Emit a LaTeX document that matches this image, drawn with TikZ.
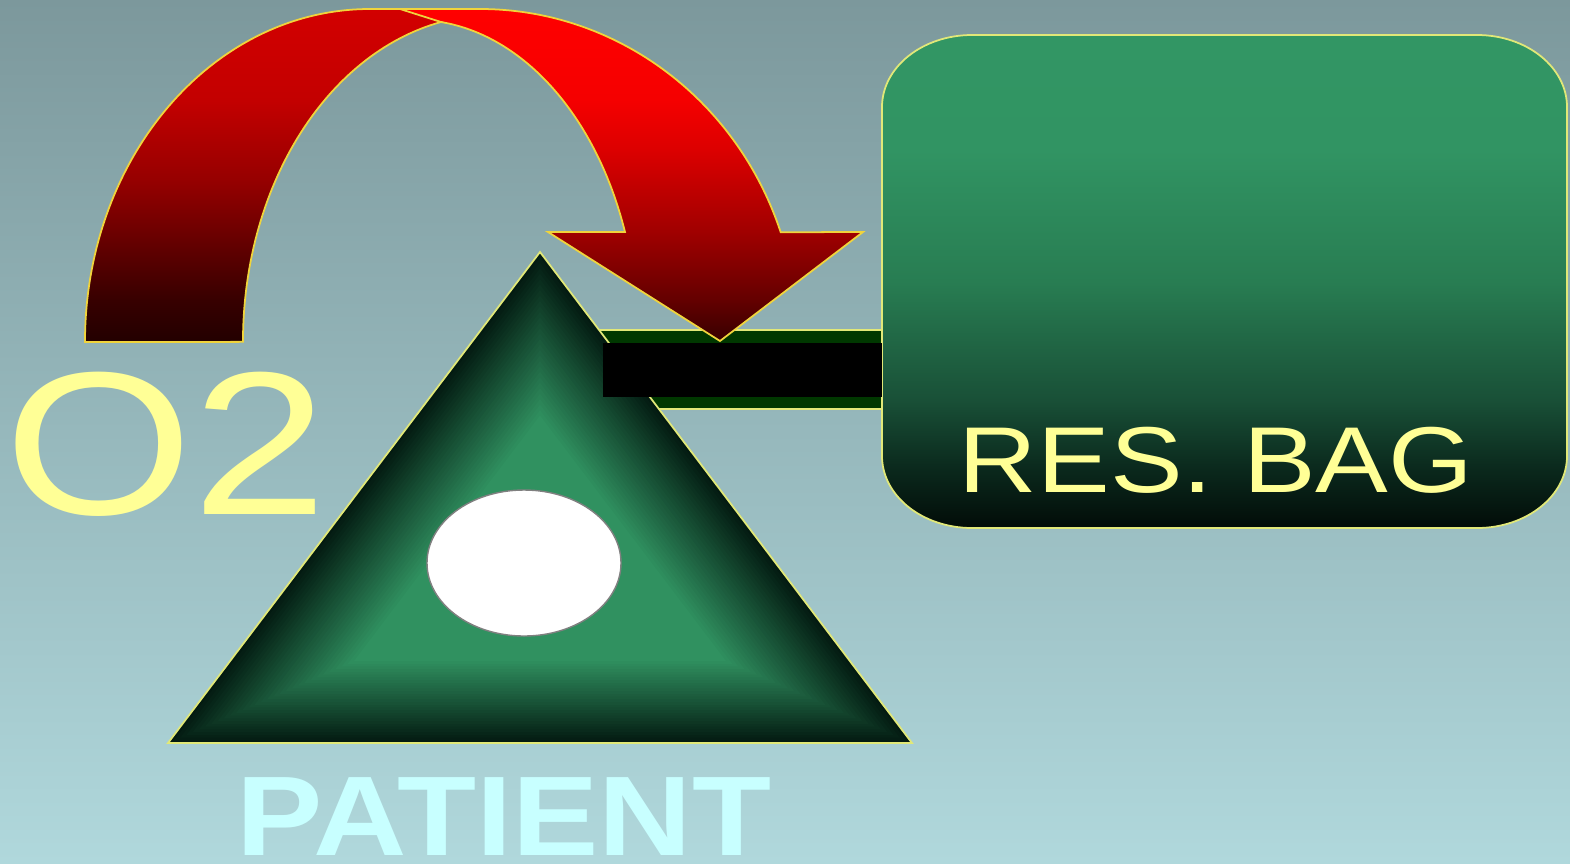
\documentclass[tikz,border=0pt]{standalone}
\usepackage{fontspec}
\setmainfont{Liberation Sans}
\usetikzlibrary{calc,positioning}

\definecolor{bgtop}{RGB}{124,152,156}
\definecolor{bgbot}{RGB}{176,216,220}
\definecolor{ptgreen}{RGB}{48,145,96}
\definecolor{ptdark}{RGB}{3,26,17}
\definecolor{tubegreen}{RGB}{0,56,0}
\definecolor{edgeyellow}{RGB}{225,232,120}
\definecolor{goldedge}{RGB}{240,212,60}
\definecolor{labelyellow}{RGB}{255,255,150}
\definecolor{labelcyan}{RGB}{200,255,255}

% fades, 25bp = bottom of the path, 75bp = top
\pgfdeclareverticalshading{bagfade}{100bp}{
  rgb(0bp)=(0.008,0.047,0.031); rgb(25bp)=(0.008,0.047,0.031);
  rgb(30.9bp)=(0.04,0.157,0.11); rgb(38bp)=(0.098,0.314,0.216);
  rgb(50bp)=(0.157,0.49,0.322); rgb(63.3bp)=(0.192,0.58,0.388);
  rgb(75bp)=(0.196,0.588,0.392); rgb(100bp)=(0.196,0.588,0.392)}
\pgfdeclareverticalshading{rightfade}{100bp}{
  rgb(0bp)=(0.216,0,0); rgb(25bp)=(0.216,0,0); rgb(31.2bp)=(0.392,0,0);
  rgb(41.4bp)=(0.627,0,0); rgb(53.8bp)=(0.863,0,0); rgb(61.3bp)=(0.96,0,0);
  rgb(75bp)=(1,0,0); rgb(100bp)=(1,0,0)}
\pgfdeclareverticalshading{leftfade}{100bp}{
  rgb(0bp)=(0.137,0,0); rgb(25bp)=(0.137,0,0); rgb(31.3bp)=(0.216,0,0);
  rgb(49.3bp)=(0.588,0,0); rgb(61.3bp)=(0.765,0,0);
  rgb(75bp)=(0.824,0,0); rgb(100bp)=(0.824,0,0)}

\tikzset{
  outline/.style={draw=edgeyellow, line width=0.5pt},
  ribbon/.style={draw=goldedge, line width=0.5pt, line join=miter},
  slidetext/.style={inner sep=0pt, anchor=base}
}

\begin{document}
\begin{tikzpicture}[x=0.01cm, y=-0.01cm]
  % page, 1570 x 863 px
  \useasboundingbox (0,0) rectangle (1570,863);
  \shade[top color=bgtop, bottom color=bgbot] (0,0) rectangle (1570,863);

  % patient triangle corners
  \coordinate (apex) at (540,252);
  \coordinate (bl) at (168,743);
  \coordinate (br) at (912,743);
  \coordinate (ctr) at (540,579);
  \coordinate (basemid) at (540,743);

  % tube, green sleeve
  \fill[tubegreen] (590,330) rectangle (882,409);
  \draw[outline] (590,330) -- (882,330) (590,409) -- (882,409);

  % reservoir bag
  \shadedraw[outline, shading=bagfade]
    (972,35) -- (1477,35) arc[start angle=-90, end angle=0, x radius=90, y radius=72]
    -- (1567,456) arc[start angle=0, end angle=90, x radius=90, y radius=72]
    -- (972,528) arc[start angle=90, end angle=180, x radius=90, y radius=72]
    -- (882,107) arc[start angle=180, end angle=270, x radius=90, y radius=72] -- cycle;

  % patient, shaded from the edges in
  \foreach \k in {0,...,60}{
    \pgfmathsetmacro\t{1-\k/60}
    \pgfmathsetmacro\p{min(100,\k/30*100)}
    \fill[ptgreen!\p!ptdark] ($(ctr)!\t!(apex)$) -- ($(ctr)!\t!(bl)$) -- ($(ctr)!\t!(br)$) -- cycle;
  }
  \draw[outline] (apex) -- (bl) -- (br) -- cycle;

  % tube, black core
  \fill[black] (603,343) rectangle (882,397);

  % face
  \filldraw[fill=white, draw=black!50, line width=0.4pt] (524,563) ellipse [x radius=97, y radius=73];

  % O2 arrow, right half with head
  \shadedraw[ribbon, shading=rightfade]
    (480,9) arc[start angle=-90, end angle=-19, x radius=318, y radius=331]
    -- (863,232) -- (720,341) -- (548,232) -- (625,232)
    arc[start angle=-19.7, end angle=-95, x radius=223, y radius=320] -- (396,9) -- cycle;
  % O2 arrow, left half
  \shadedraw[ribbon, shading=leftfade]
    (85,342) arc[start angle=180, end angle=270, x radius=285, y radius=333]
    -- (400,9) -- (441,22)
    arc[start angle=258, end angle=180, x radius=250, y radius=327] -- cycle;

  % labels
  \node[slidetext, text=labelyellow, font=\fontsize{58pt}{64pt}\selectfont] (otwo) at (166,514) {\scalebox{1.19}[1]{O2}};
  \node[slidetext, text=labelyellow, font=\fontsize{26.6pt}{32pt}\selectfont] (resbag) at (1216,492) {\scalebox{1.165}[1]{RES. BAG}};
  \node[below=0.34cm of basemid, xshift=-0.36cm, inner sep=0pt, text=labelcyan, font=\bfseries\fontsize{32.2pt}{38pt}\selectfont] (patient) {\scalebox{1.143}[1]{PATIENT}};
\end{tikzpicture}
\end{document}
